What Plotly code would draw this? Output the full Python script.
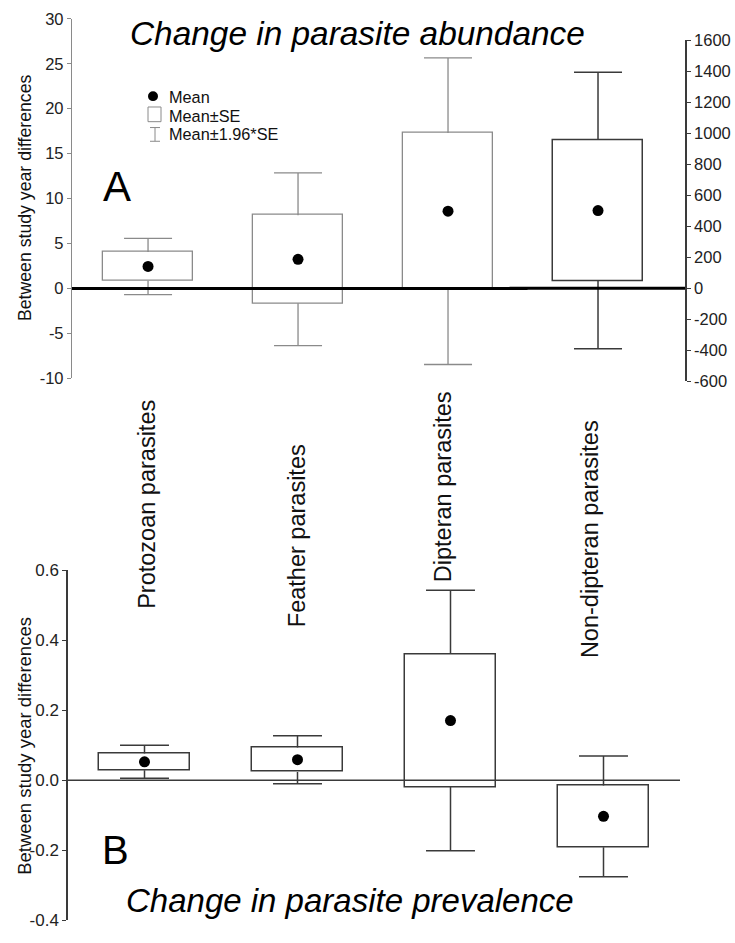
import plotly.graph_objects as go

# ---------------- data ----------------
categories = ["Protozoan parasites", "Feather parasites", "Dipteran parasites", "Non-dipteran parasites"]

# Panel A: change in parasite abundance (first three on left axis, last on right axis)
abund_mean = [2.45, 3.25, 8.6, 502]
abund_se = [1.6, 4.9, 8.7, 455]

# Panel B: change in parasite prevalence
prev_mean = [0.053, 0.059, 0.171, -0.103]
prev_se = [0.024, 0.035, 0.190, 0.088]

left_ticks = list(range(-10, 31, 5))
right_ticks = list(range(-600, 1601, 200))
prev_ticks = [-0.4, -0.2, 0.0, 0.2, 0.4, 0.6]

# ---------------- geometry helpers ----------------
W, H = 735, 943
def px(x):
    return x / W
def py(y):
    return 1 - y / H

FONT = "Arial, Liberation Sans, sans-serif"
GRAY = "#8a8a8a"
DARK = "#3a3a3a"
BOX_W = 0.6
CAP_HALF = 0.16
Z = 1.96

fig = go.Figure()

def add_group(xs, means, ses, xa, ya, color, lw):
    # boxes mean +/- SE
    fig.add_trace(go.Bar(
        x=xs, y=[2 * s for s in ses], base=[m - s for m, s in zip(means, ses)],
        width=BOX_W, marker=dict(color="white", line=dict(color=color, width=lw)),
        xaxis=xa, yaxis=ya, showlegend=False, hoverinfo="skip"))
    # whiskers mean +/- 1.96*SE
    wx, wy = [], []
    for x, m, s in zip(xs, means, ses):
        hi, lo = m + Z * s, m - Z * s
        wx += [x, x, None, x - CAP_HALF, x + CAP_HALF, None,
               x, x, None, x - CAP_HALF, x + CAP_HALF, None]
        wy += [m + s, hi, None, hi, hi, None,
               m - s, lo, None, lo, lo, None]
    fig.add_trace(go.Scatter(x=wx, y=wy, mode="lines", line=dict(color=color, width=lw),
                             xaxis=xa, yaxis=ya, showlegend=False, hoverinfo="skip"))
    # mean points
    fig.add_trace(go.Scatter(x=xs, y=means, mode="markers",
                             marker=dict(color="black", size=11),
                             xaxis=xa, yaxis=ya, showlegend=False))

idx = list(range(len(categories)))
add_group(idx[:3], abund_mean[:3], abund_se[:3], "x", "y", GRAY, 1.3)
add_group(idx[3:], abund_mean[3:], abund_se[3:], "x2", "y2", DARK, 1.5)
add_group(idx, prev_mean, prev_se, "x3", "y3", DARK, 1.5)

def fmt(v):
    return f"{v:.1f}" if isinstance(v, float) else str(v)

# ---------------- axes ----------------
xA_range = [-0.507, 3.58]
xA_dom = [px(72), px(685)]
tf_top = dict(family=FONT, size=16.5, color="#222")
tf_bot = dict(family=FONT, size=17, color="#222")

fig.update_layout(
    width=W, height=H, margin=dict(l=0, r=0, t=0, b=0),
    paper_bgcolor="white", plot_bgcolor="rgba(0,0,0,0)", showlegend=False,
    bargap=0,
    xaxis=dict(domain=xA_dom, range=xA_range, visible=False, anchor="y"),
    yaxis=dict(domain=[py(377), py(10)], range=[-10, 30], anchor="x",
               tickvals=left_ticks, ticktext=[fmt(v) for v in left_ticks],
               ticks="outside", ticklen=4, tickcolor=GRAY,
               showline=True, linecolor=GRAY, linewidth=1.3, showgrid=False,
               zeroline=False, tickfont=tf_top),
    xaxis2=dict(domain=xA_dom, range=xA_range, visible=False, anchor="y2"),
    yaxis2=dict(domain=[py(380), py(32)], range=[-600, 1600], anchor="x2", side="right",
                tickvals=right_ticks, ticktext=[fmt(v) for v in right_ticks],
                ticks="outside", ticklen=4, tickcolor=DARK,
                showline=True, linecolor=DARK, linewidth=1.5, showgrid=False,
                zeroline=False, tickfont=tf_top),
    xaxis3=dict(domain=[px(68), px(680)], range=[-0.5, 3.5], visible=False, anchor="y3"),
    yaxis3=dict(domain=[py(930), py(573)], range=[-0.4, 0.6], anchor="x3",
                tickvals=prev_ticks, ticktext=[fmt(v) for v in prev_ticks],
                ticks="outside", ticklen=4,
                tickcolor=DARK, showline=True, linecolor=DARK, linewidth=1.5,
                showgrid=False, zeroline=False, tickfont=tf_bot),
)

# zero lines
fig.add_shape(type="line", xref="x", yref="y", x0=xA_range[0], x1=2.53, y0=0, y1=0,
              line=dict(color="black", width=3))
fig.add_shape(type="line", xref="x2", yref="y2", x0=2.41, x1=xA_range[1], y0=0, y1=0,
              line=dict(color="black", width=3))
fig.add_shape(type="line", xref="x3", yref="y3", x0=-0.5, x1=3.5, y0=0, y1=0,
              line=dict(color=DARK, width=1.5))

# ---------------- legend (custom) ----------------
fig.add_shape(type="circle", xref="paper", yref="paper",
              x0=px(148), x1=px(158), y0=py(94), y1=py(84),
              fillcolor="black", line=dict(color="black", width=0))
fig.add_shape(type="rect", xref="paper", yref="paper",
              x0=px(148), x1=px(161), y0=py(115), y1=py(100),
              fillcolor="white", line=dict(color=GRAY, width=1))
for seg in [(155, 121, 155, 135), (150, 121, 160, 121), (150, 135, 160, 135)]:
    fig.add_shape(type="line", xref="paper", yref="paper",
                  x0=px(seg[0]), y0=py(seg[1]), x1=px(seg[2]), y1=py(seg[3]),
                  line=dict(color=GRAY, width=1))
for label, yy in [("Mean", 90), ("Mean±SE", 109), ("Mean±1.96*SE", 128)]:
    fig.add_annotation(xref="paper", yref="paper", x=px(167), y=py(yy), text=label,
                       showarrow=False, xanchor="left", yanchor="middle",
                       font=dict(family=FONT, size=16.3, color="#111"))

# ---------------- texts ----------------
fig.add_annotation(xref="paper", yref="paper", x=px(357), y=py(25),
                   text="<i>Change in parasite abundance</i>", showarrow=False,
                   xanchor="center", yanchor="middle",
                   font=dict(family=FONT, size=33.4, color="black"))
fig.add_annotation(xref="paper", yref="paper", x=px(350), y=py(910),
                   text="<i>Change in parasite prevalence</i>", showarrow=False,
                   xanchor="center", yanchor="middle",
                   font=dict(family=FONT, size=33, color="black"))
fig.add_annotation(xref="paper", yref="paper", x=px(117), y=py(181), text="A",
                   showarrow=False, xanchor="center", yanchor="middle",
                   font=dict(family=FONT, size=42, color="black"))
fig.add_annotation(xref="paper", yref="paper", x=px(115), y=py(858), text="B",
                   showarrow=False, xanchor="center", yanchor="middle",
                   font=dict(family=FONT, size=40, color="black"))
for yy, fs in [(193, 17.7), (752, 18.5)]:
    fig.add_annotation(xref="paper", yref="paper", x=px(25), y=py(yy),
                       text="Between study year differences", textangle=-90,
                       showarrow=False, xanchor="center", yanchor="middle",
                       font=dict(family=FONT, size=fs, color="#111"))

# category labels (vertical)
cat_pos = [(147, 506), (297, 538), (443, 488), (590, 541)]
for name, (cx, cy) in zip(categories, cat_pos):
    fig.add_annotation(xref="paper", yref="paper", x=px(cx), y=py(cy), text=name,
                       textangle=-90, showarrow=False, xanchor="center", yanchor="middle",
                       font=dict(family=FONT, size=23.5, color="#111"))

fig.write_html("out.html", config={"displayModeBar": False},
               post_script="document.body.style.margin='0';document.body.style.overflow='hidden';")
